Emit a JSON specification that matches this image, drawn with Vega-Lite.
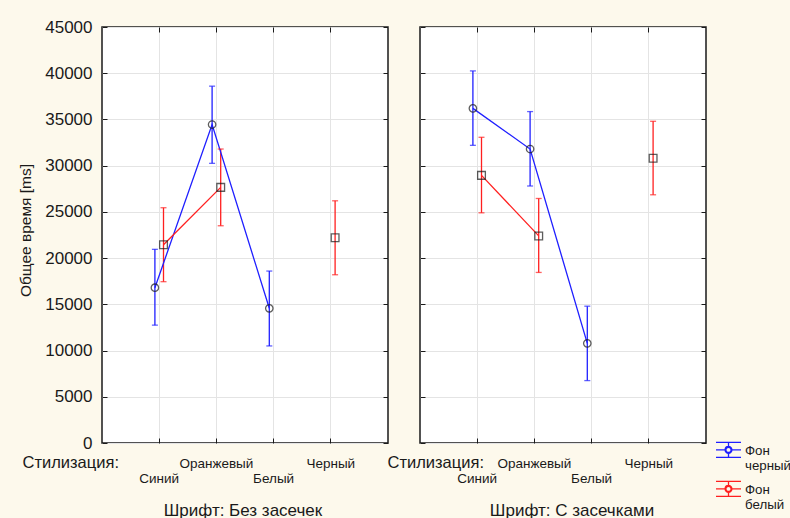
{
  "$schema": "https://vega.github.io/schema/vega-lite/v6.json",
  "background": "#fdf9ec",
  "padding": {"left": 17, "top": 17, "right": 0, "bottom": 0},
  "datasets": {
    "d": [
      {"font": "Без засечек", "style": "Синий", "bg": "черный", "mean": 16800, "lo": 12750, "hi": 20950},
      {"font": "Без засечек", "style": "Оранжевый", "bg": "черный", "mean": 34450, "lo": 30250, "hi": 38600},
      {"font": "Без засечек", "style": "Белый", "bg": "черный", "mean": 14570, "lo": 10500, "hi": 18600},
      {"font": "Без засечек", "style": "Черный", "bg": "черный", "mean": null, "lo": null, "hi": null},
      {"font": "Без засечек", "style": "Синий", "bg": "белый", "mean": 21450, "lo": 17450, "hi": 25450},
      {"font": "Без засечек", "style": "Оранжевый", "bg": "белый", "mean": 27650, "lo": 23500, "hi": 31800},
      {"font": "Без засечек", "style": "Белый", "bg": "белый", "mean": null, "lo": null, "hi": null},
      {"font": "Без засечек", "style": "Черный", "bg": "белый", "mean": 22200, "lo": 18200, "hi": 26200},
      {"font": "С засечками", "style": "Синий", "bg": "черный", "mean": 36200, "lo": 32200, "hi": 40250},
      {"font": "С засечками", "style": "Оранжевый", "bg": "черный", "mean": 31800, "lo": 27800, "hi": 35850},
      {"font": "С засечками", "style": "Белый", "bg": "черный", "mean": 10780, "lo": 6750, "hi": 14800},
      {"font": "С засечками", "style": "Черный", "bg": "черный", "mean": null, "lo": null, "hi": null},
      {"font": "С засечками", "style": "Синий", "bg": "белый", "mean": 28950, "lo": 24900, "hi": 33070},
      {"font": "С засечками", "style": "Оранжевый", "bg": "белый", "mean": 22400, "lo": 18450, "hi": 26450},
      {"font": "С засечками", "style": "Белый", "bg": "белый", "mean": null, "lo": null, "hi": null},
      {"font": "С засечками", "style": "Черный", "bg": "белый", "mean": 30800, "lo": 26850, "hi": 34800}
    ]
  },
  "config": {
    "font": "Liberation Sans",
    "view": {"stroke": "#1a1a1a", "strokeWidth": 1.5, "fill": "white"},
    "axis": {
      "domain": false,
      "gridColor": "#e4e4e4",
      "gridWidth": 1,
      "tickColor": "#1a1a1a",
      "tickWidth": 1,
      "labelColor": "#1a1a1a",
      "titleColor": "#1a1a1a",
      "titleFontWeight": "normal"
    },
    "concat": {"spacing": -4},
    "title": {"fontWeight": "normal", "color": "#1a1a1a"}
  },
  "hconcat": [
    {
      "width": 286,
      "height": 416,
      "data": {"name": "d"},
      "transform": [{"filter": "datum.font === 'Без засечек'"}],
      "title": {"text": "Шрифт: Без засечек", "orient": "bottom", "fontSize": 17, "offset": 18, "dx": -2},
      "layer": [
        {
          "mark": {"type": "rule", "strokeWidth": 1.3},
          "encoding": {
            "x": {
              "field": "style", "type": "nominal",
              "sort": ["Синий", "Оранжевый", "Белый", "Черный"],
              "scale": {"paddingInner": 0, "paddingOuter": 0.5},
              "axis": {
                "orient": "bottom", "grid": true, "bandPosition": 0.5, "tickBand": "center",
                "labelAngle": 0, "labelFontSize": 13.5, "tickSize": -5,
                "labelPadding": {"condition": {"test": "datum.value === 'Синий' || datum.value === 'Белый'", "value": 33}, "value": 18},
                "title": "Стилизация:", "titleFontSize": 16.5, "titleAlign": "left", "titleAnchor": "start",
                "titleX": -80, "titleY": 19, "titleBaseline": "middle"
              }
            },
            "xOffset": {"field": "bg", "type": "nominal", "sort": ["черный", "белый"], "scale": {"type": "point", "range": [24.3, 32.9], "padding": 0}},
            "y": {
              "field": "lo", "type": "quantitative",
              "scale": {"domain": [0, 45000], "nice": false},
              "axis": {
                "orient": "left", "values": [0, 5000, 10000, 15000, 20000, 25000, 30000, 35000, 40000, 45000],
                "format": "d",
                "grid": true, "tickSize": -5, "labelPadding": 15, "labelFontSize": 17,
                "title": "Общее время [ms]", "titleFontSize": 15.5, "titleY": 203, "titlePadding": 11
              }
            },
            "y2": {"field": "hi"},
            "color": {
              "field": "bg", "type": "nominal", "sort": ["черный", "белый"],
              "scale": {"domain": ["черный", "белый"], "range": ["#1f1fff", "#ff1f1f"]},
              "legend": {
                "title": null, "orient": "none", "legendX": 613, "legendY": 414,
                "symbolSize": 625, "symbolStrokeWidth": 1.3, "symbolOpacity": 1,
                "symbolType": "M-1,-0.97H1M-1,0.23H1M-1,-0.37H-0.27M0.27,-0.37H1M0,-0.97V-0.64M0,-0.1V0.23M0.27,-0.37A0.27,0.27,0,1,1,-0.27,-0.37A0.27,0.27,0,1,1,0.27,-0.37ZM0.21,-0.37A0.21,0.21,0,1,0,-0.21,-0.37A0.21,0.21,0,1,0,0.21,-0.37Z",
                "labelExpr": "['Фон', datum.label]", "labelFontSize": 13.3, "labelColor": "#1a1a1a",
                "labelBaseline": "alphabetic", "labelOffset": 3, "rowPadding": 5
              }
            }
          }
        },
        {
          "mark": {"type": "line", "strokeWidth": 1.3, "invalid": "break-paths-show-domains"},
          "encoding": {
            "x": {"field": "style", "type": "nominal", "sort": ["Синий", "Оранжевый", "Белый", "Черный"],
              "axis": {"orient": "top", "labels": false, "grid": false, "title": null, "tickSize": -5, "bandPosition": 0.5, "tickBand": "center"}},
            "xOffset": {"field": "bg", "type": "nominal", "sort": ["черный", "белый"]},
            "y": {"field": "mean", "type": "quantitative",
              "axis": {"orient": "right", "labels": false, "grid": false, "title": null, "tickSize": -5, "values": [0, 5000, 10000, 15000, 20000, 25000, 30000, 35000, 40000, 45000]}},
            "color": {"field": "bg", "type": "nominal", "legend": null},
            "order": {"value": null}
          }
        },
        {
          "mark": {"type": "tick", "orient": "horizontal", "size": 6, "thickness": 1.3},
          "encoding": {
            "x": {"field": "style", "type": "nominal", "sort": ["Синий", "Оранжевый", "Белый", "Черный"], "axis": null},
            "xOffset": {"field": "bg", "type": "nominal", "sort": ["черный", "белый"]},
            "y": {"field": "lo", "type": "quantitative", "axis": null},
            "color": {"field": "bg", "type": "nominal", "legend": null}
          }
        },
        {
          "mark": {"type": "tick", "orient": "horizontal", "size": 6, "thickness": 1.3},
          "encoding": {
            "x": {"field": "style", "type": "nominal", "sort": ["Синий", "Оранжевый", "Белый", "Черный"], "axis": null},
            "xOffset": {"field": "bg", "type": "nominal", "sort": ["черный", "белый"]},
            "y": {"field": "hi", "type": "quantitative", "axis": null},
            "color": {"field": "bg", "type": "nominal", "legend": null}
          }
        },
        {
          "transform": [{"filter": "datum.bg === 'черный'"}],
          "mark": {"type": "point", "shape": "circle", "filled": false, "size": 55, "strokeWidth": 1.3, "color": "#1a1a1a"},
          "encoding": {
            "x": {"field": "style", "type": "nominal", "sort": ["Синий", "Оранжевый", "Белый", "Черный"], "axis": null},
            "xOffset": {"field": "bg", "type": "nominal", "sort": ["черный", "белый"]},
            "y": {"field": "mean", "type": "quantitative", "axis": null}
          }
        },
        {
          "transform": [{"filter": "datum.bg === 'белый'"}],
          "mark": {"type": "point", "shape": "square", "filled": false, "size": 60, "strokeWidth": 1.3, "color": "#1a1a1a"},
          "encoding": {
            "x": {"field": "style", "type": "nominal", "sort": ["Синий", "Оранжевый", "Белый", "Черный"], "axis": null},
            "xOffset": {"field": "bg", "type": "nominal", "sort": ["черный", "белый"]},
            "y": {"field": "mean", "type": "quantitative", "axis": null}
          }
        }
      ],
      "resolve": {"axis": {"x": "independent", "y": "independent"}}
    },
    {
      "width": 286,
      "height": 416,
      "data": {"name": "d"},
      "transform": [{"filter": "datum.font === 'С засечками'"}],
      "title": {"text": "Шрифт: С засечками", "orient": "bottom", "fontSize": 17, "offset": 18, "dx": 9},
      "layer": [
        {
          "mark": {"type": "rule", "strokeWidth": 1.3},
          "encoding": {
            "x": {
              "field": "style", "type": "nominal",
              "sort": ["Синий", "Оранжевый", "Белый", "Черный"],
              "scale": {"paddingInner": 0, "paddingOuter": 0.5},
              "axis": {
                "orient": "bottom", "grid": true, "bandPosition": 0.5, "tickBand": "center",
                "labelAngle": 0, "labelFontSize": 13.5, "tickSize": -5,
                "labelPadding": {"condition": {"test": "datum.value === 'Синий' || datum.value === 'Белый'", "value": 33}, "value": 18},
                "title": "Стилизация:", "titleFontSize": 16.5, "titleAlign": "left", "titleAnchor": "start",
                "titleX": -33, "titleY": 19, "titleBaseline": "middle"
              }
            },
            "xOffset": {"field": "bg", "type": "nominal", "sort": ["черный", "белый"], "scale": {"type": "point", "range": [24.3, 32.9], "padding": 0}},
            "y": {
              "field": "lo", "type": "quantitative",
              "scale": {"domain": [0, 45000], "nice": false},
              "axis": {
                "orient": "left", "values": [0, 5000, 10000, 15000, 20000, 25000, 30000, 35000, 40000, 45000],
                "grid": true, "tickSize": -5, "labels": false, "title": null
              }
            },
            "y2": {"field": "hi"},
            "color": {
              "field": "bg", "type": "nominal", "sort": ["черный", "белый"],
              "scale": {"domain": ["черный", "белый"], "range": ["#1f1fff", "#ff1f1f"]},
              "legend": null
            }
          }
        },
        {
          "mark": {"type": "line", "strokeWidth": 1.3, "invalid": "break-paths-show-domains"},
          "encoding": {
            "x": {"field": "style", "type": "nominal", "sort": ["Синий", "Оранжевый", "Белый", "Черный"],
              "axis": {"orient": "top", "labels": false, "grid": false, "title": null, "tickSize": -5, "bandPosition": 0.5, "tickBand": "center"}},
            "xOffset": {"field": "bg", "type": "nominal", "sort": ["черный", "белый"]},
            "y": {"field": "mean", "type": "quantitative",
              "axis": {"orient": "right", "labels": false, "grid": false, "title": null, "tickSize": -5, "values": [0, 5000, 10000, 15000, 20000, 25000, 30000, 35000, 40000, 45000]}},
            "color": {"field": "bg", "type": "nominal", "legend": null},
            "order": {"value": null}
          }
        },
        {
          "mark": {"type": "tick", "orient": "horizontal", "size": 6, "thickness": 1.3},
          "encoding": {
            "x": {"field": "style", "type": "nominal", "sort": ["Синий", "Оранжевый", "Белый", "Черный"], "axis": null},
            "xOffset": {"field": "bg", "type": "nominal", "sort": ["черный", "белый"]},
            "y": {"field": "lo", "type": "quantitative", "axis": null},
            "color": {"field": "bg", "type": "nominal", "legend": null}
          }
        },
        {
          "mark": {"type": "tick", "orient": "horizontal", "size": 6, "thickness": 1.3},
          "encoding": {
            "x": {"field": "style", "type": "nominal", "sort": ["Синий", "Оранжевый", "Белый", "Черный"], "axis": null},
            "xOffset": {"field": "bg", "type": "nominal", "sort": ["черный", "белый"]},
            "y": {"field": "hi", "type": "quantitative", "axis": null},
            "color": {"field": "bg", "type": "nominal", "legend": null}
          }
        },
        {
          "transform": [{"filter": "datum.bg === 'черный'"}],
          "mark": {"type": "point", "shape": "circle", "filled": false, "size": 55, "strokeWidth": 1.3, "color": "#1a1a1a"},
          "encoding": {
            "x": {"field": "style", "type": "nominal", "sort": ["Синий", "Оранжевый", "Белый", "Черный"], "axis": null},
            "xOffset": {"field": "bg", "type": "nominal", "sort": ["черный", "белый"]},
            "y": {"field": "mean", "type": "quantitative", "axis": null}
          }
        },
        {
          "transform": [{"filter": "datum.bg === 'белый'"}],
          "mark": {"type": "point", "shape": "square", "filled": false, "size": 60, "strokeWidth": 1.3, "color": "#1a1a1a"},
          "encoding": {
            "x": {"field": "style", "type": "nominal", "sort": ["Синий", "Оранжевый", "Белый", "Черный"], "axis": null},
            "xOffset": {"field": "bg", "type": "nominal", "sort": ["черный", "белый"]},
            "y": {"field": "mean", "type": "quantitative", "axis": null}
          }
        }
      ],
      "resolve": {"axis": {"x": "independent", "y": "independent"}}
    }
  ]
}
